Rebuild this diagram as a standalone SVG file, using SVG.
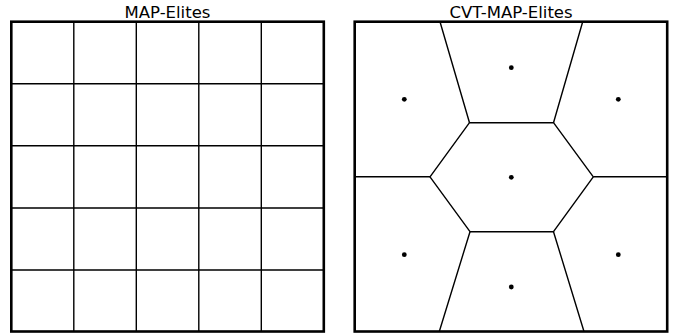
<svg xmlns="http://www.w3.org/2000/svg" width="678" height="333" viewBox="0 0 678 333">
<style>
.title{font-family:"DejaVu Sans",sans-serif;font-size:16.5px;fill:#000;text-anchor:middle}
.frame{fill:none;stroke:#000;stroke-width:2.6}
.grid{fill:none;stroke:#000;stroke-width:1.4}
.cell{fill:none;stroke:#000;stroke-width:1.4;stroke-linejoin:round}
.dot{fill:#000}
</style>
<rect width="678" height="333" fill="#fff"/>
<g id="map-elites">
<text class="title" x="167.5" y="18">MAP-Elites</text>
<g id="grid-lines" class="grid">
<path d="M73.8 21.7V331.5M136.3 21.7V331.5M198.8 21.7V331.5M261.3 21.7V331.5"/>
<path d="M11.3 83.7H323.8M11.3 145.8H323.8M11.3 208H323.8M11.3 270H323.8"/>
</g>
<rect id="map-frame" class="frame" x="11.3" y="21.7" width="312.5" height="309.8"/>
</g>
<g id="cvt-map-elites">
<text class="title" x="511" y="18">CVT-MAP-Elites</text>
<g id="voronoi-edges" class="cell">
<polygon points="469.5,122.7 553.5,122.7 593.3,176.8 553.5,231.7 470,231.7 430,176.8"/>
<path d="M440 21.7L469.5 122.7M582.7 21.7L553.5 122.7M354.7 176.8H430M593.3 176.8H667.2M470 231.7L439.3 331.5M553.5 231.7L584 331.5"/>
</g>
<g id="centroids" class="dot">
<circle cx="404.3" cy="99.3" r="2.4"/>
<circle cx="511.3" cy="67.7" r="2.4"/>
<circle cx="618.3" cy="99.3" r="2.4"/>
<circle cx="511.3" cy="177.3" r="2.4"/>
<circle cx="404.3" cy="254.7" r="2.4"/>
<circle cx="618.3" cy="254.7" r="2.4"/>
<circle cx="511.3" cy="287" r="2.4"/>
</g>
<rect id="cvt-frame" class="frame" x="354.7" y="21.7" width="312.5" height="309.8"/>
</g>
</svg>
